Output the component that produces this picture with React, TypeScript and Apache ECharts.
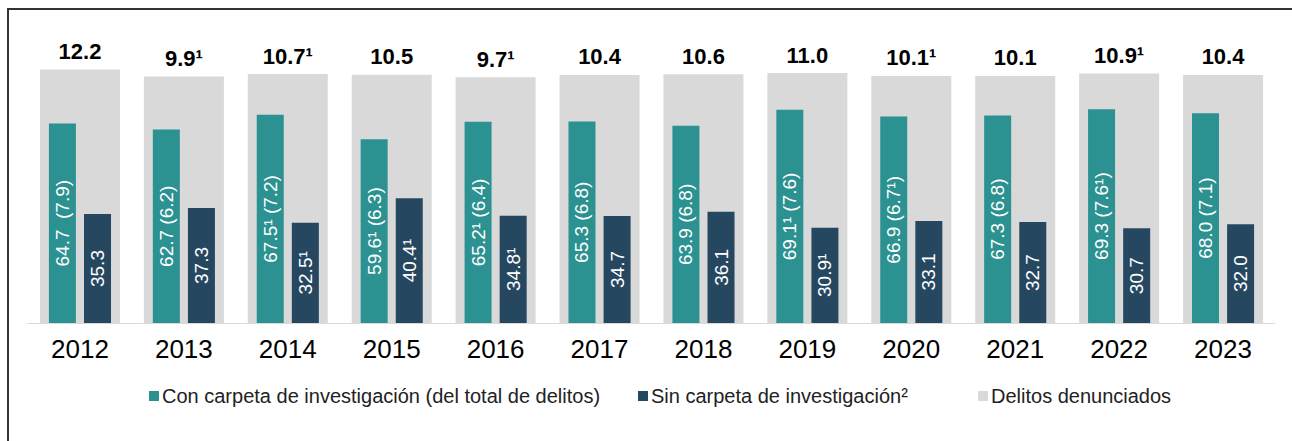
import React, { useEffect, useRef } from "react";
import * as echarts from "echarts";

const years = ["2012", "2013", "2014", "2015", "2016", "2017", "2018", "2019", "2020", "2021", "2022", "2023"];
const conCarpeta = [64.7, 62.7, 67.5, 59.6, 65.2, 65.3, 63.9, 69.1, 66.9, 67.3, 69.3, 68.0];
const conCarpetaLabels = ["64.7  (7.9)", "62.7 (6.2)", "67.5¹ (7.2)", "59.6¹ (6.3)", "65.2¹ (6.4)", "65.3 (6.8)", "63.9 (6.8)", "69.1¹ (7.6)", "66.9 (6.7¹)", "67.3 (6.8)", "69.3 (7.6¹)", "68.0 (7.1)"];
const sinCarpeta = [35.3, 37.3, 32.5, 40.4, 34.8, 34.7, 36.1, 30.9, 33.1, 32.7, 30.7, 32.0];
const sinCarpetaLabels = ["35.3", "37.3", "32.5¹", "40.4¹", "34.8¹", "34.7", "36.1", "30.9¹", "33.1", "32.7", "30.7", "32.0"];
const denunciados = [12.2, 9.9, 10.7, 10.5, 9.7, 10.4, 10.6, 11.0, 10.1, 10.1, 10.9, 10.4];
const denunciadosLabels = ["12.2", "9.9¹", "10.7¹", "10.5", "9.7¹", "10.4", "10.6", "11.0", "10.1¹", "10.1", "10.9¹", "10.4"];
// the grey backdrop bars sit on a fixed base of the percentage scale (as in the original)
const grayBase = [70, 70, 70, 70, 70, 70, 70, 70, 70, 70, 70, 70];

const S1 = "Con carpeta de investigación (del total de delitos)";
const S2 = "Sin carpeta de investigación²";
const S3 = "Delitos denunciados";

const TEAL = "#2B9191";
const NAVY = "#264760";
const GRAY = "#D9D9D9";
const FONT = "'Liberation Sans', Arial, sans-serif";

export default function App() {
  const ref = useRef<HTMLDivElement>(null);
  useEffect(() => {
    if (!ref.current) return;
    const chart = echarts.init(ref.current, undefined, { renderer: "svg" });
    const legendBase = {
      orient: "horizontal",
      top: 381,
      icon: "rect",
      itemWidth: 10,
      itemHeight: 10,
      itemGap: 4,
      textStyle: { fontFamily: FONT, fontSize: 20, color: "#222", padding: [0, 0, 0, -2] },
    };
    chart.setOption({
      animation: false,
      textStyle: { fontFamily: FONT },
      grid: { left: 28, right: 17, top: 14.5, bottom: 118, containLabel: false },
      xAxis: [
        {
          type: "category",
          data: years,
          axisLine: { show: true, lineStyle: { color: GRAY, width: 1 } },
          axisTick: { show: false },
          axisLabel: { fontSize: 26, color: "#000", margin: 13, fontFamily: FONT },
        },
        { type: "category", data: years, show: false },
      ],
      yAxis: [{ type: "value", min: 0, max: 100, show: false, splitLine: { show: false } }],
      legend: [
        { ...legendBase, left: 144, data: [S1] },
        { ...legendBase, left: 633, data: [S2] },
        { ...legendBase, left: 973, data: [S3] },
      ],
      graphic: [
        { type: "line", shape: { x1: 7, y1: 9, x2: 1292, y2: 9 }, style: { stroke: "#333", lineWidth: 2 }, z: 10 },
        { type: "line", shape: { x1: 8, y1: 8, x2: 8, y2: 441 }, style: { stroke: "#333", lineWidth: 2 }, z: 10 },
      ],
      series: [
        {
          name: "base",
          type: "bar",
          xAxisIndex: 1,
          stack: "total",
          barWidth: 80,
          silent: true,
          data: grayBase,
          itemStyle: { color: GRAY },
          z: 1,
        },
        {
          name: S3,
          type: "bar",
          xAxisIndex: 1,
          stack: "total",
          barWidth: 80,
          data: denunciados,
          itemStyle: { color: GRAY },
          z: 1,
          label: {
            show: true,
            position: "top",
            distance: 7,
            fontSize: 22,
            fontWeight: "bold",
            color: "#000",
            fontFamily: FONT,
            formatter: (p: any) => denunciadosLabels[p.dataIndex],
          },
        },
        {
          name: S1,
          type: "bar",
          xAxisIndex: 0,
          barWidth: 27,
          barGap: "30%",
          data: conCarpeta,
          itemStyle: { color: TEAL },
          z: 2,
          label: {
            show: true,
            position: "inside",
            rotate: 90,
            fontSize: 19,
            color: "#fff",
            fontFamily: FONT,
            formatter: (p: any) => conCarpetaLabels[p.dataIndex],
          },
        },
        {
          name: S2,
          type: "bar",
          xAxisIndex: 0,
          barWidth: 27,
          barGap: "30%",
          data: sinCarpeta,
          itemStyle: { color: NAVY },
          z: 2,
          label: {
            show: true,
            position: "inside",
            rotate: 90,
            fontSize: 19,
            color: "#fff",
            fontFamily: FONT,
            formatter: (p: any) => sinCarpetaLabels[p.dataIndex],
          },
        },
      ],
    });
    return () => chart.dispose();
  }, []);
  return (
    <div style={{ position: "fixed", left: 0, top: 0, width: 1292, height: 441, background: "#fff" }}>
      <div ref={ref} style={{ width: 1292, height: 441 }} />
    </div>
  );
}
